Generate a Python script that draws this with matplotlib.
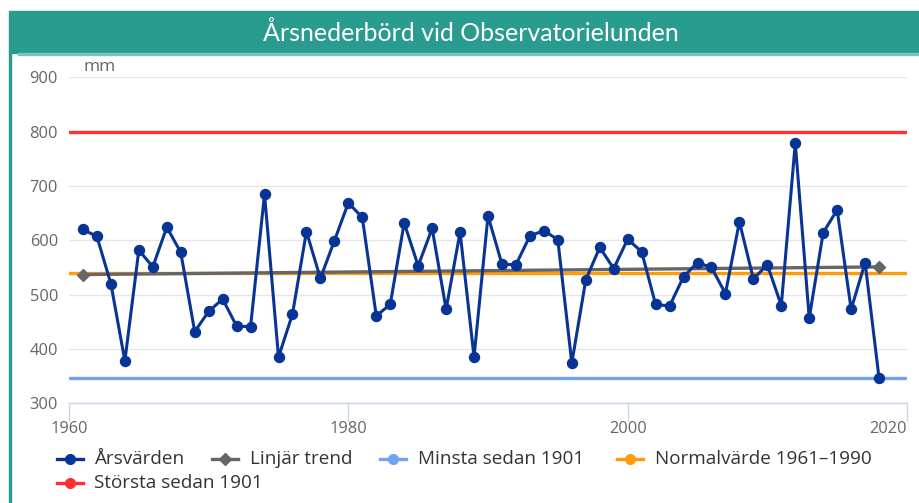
import matplotlib
matplotlib.use("Agg")
import matplotlib.pyplot as plt
from matplotlib.patches import Rectangle
from matplotlib.lines import Line2D

# Årsnederbörd (mm), Observatorielunden
years = list(range(1961, 2019))
values = [620, 607, 520, 378, 582, 551, 624, 578, 432, 469,
          492, 442, 441, 685, 385, 464, 616, 530, 599, 669,
          642, 461, 482, 632, 553, 622, 473, 615, 385, 645,
          556, 555, 608, 618, 601, 374, 527, 587, 548, 602,
          579, 482, 479, 533, 559, 550, 502, 634, 529, 555,
          480, 779, 457, 614, 656, 473, 559, 346]

trend_years = [1961, 2018]
trend_values = [537, 551]

min_since_1901 = 346
max_since_1901 = 800
normal_1961_1990 = 539

x_ticks = [1960, 1980, 2000, 2020]
y_ticks = [300, 400, 500, 600, 700, 800, 900]

TEAL = "#2a9c8f"
C_YEAR = "#083595"
C_TREND = "#666666"
C_MIN = "#72a2f4"
C_NORMAL = "#ff9c0a"
C_MAX = "#ff3030"
TXT = "#666666"
FONT = "Open Sans"

W, H = 920, 503
fig = plt.figure(figsize=(W / 100, H / 100), dpi=100)
fig.patch.set_facecolor("white")

# title bar and left border
fig.patches.append(Rectangle((9 / W, 1 - 53 / H), 1 - 9 / W, 42 / H,
                             transform=fig.transFigure, color=TEAL, zorder=0))
fig.patches.append(Rectangle((18 / W, 1 - 55 / H), 1 - 18 / W, 2 / H,
                             transform=fig.transFigure, color="#7cc4bb", zorder=0))
fig.patches.append(Rectangle((9 / W, 0), 2 / W, 1 - 53 / H,
                             transform=fig.transFigure, color=TEAL, zorder=0))
fig.text(471 / W, 1 - 33 / H, "Årsnederbörd vid Observatorielunden",
         ha="center", va="center", color="white", fontsize=18, family="Lato")

ax = fig.add_axes([69 / W, 1 - 403.3 / H, 838 / W, 326 / H])
ax.set_xlim(1960, 2020)
ax.set_ylim(300, 900)

ax.axhline(min_since_1901, color=C_MIN, lw=2.4, zorder=2)
ax.axhline(normal_1961_1990, color=C_NORMAL, lw=2.4, zorder=2)
ax.axhline(max_since_1901, color=C_MAX, lw=2.4, zorder=2)
ax.plot(trend_years, trend_values, color=C_TREND, lw=2.4, marker="D",
        markersize=6.5, zorder=3)
ax.plot(years, values, color=C_YEAR, lw=2.2, marker="o", markersize=7.2,
        zorder=4, solid_joinstyle="round")

ax.set_xticks(x_ticks)
ax.set_yticks(y_ticks)
ax.grid(axis="y", color="#e6e6e6", lw=1)
ax.set_axisbelow(True)
for s in ["left", "right", "top"]:
    ax.spines[s].set_visible(False)
ax.spines["bottom"].set_color("#ccd6eb")
ax.spines["bottom"].set_linewidth(1)
ax.tick_params(axis="x", length=13, width=1, color="#ccd6eb", pad=0,
               labelsize=11.8, labelcolor=TXT)
ax.tick_params(axis="y", length=0, pad=8, labelsize=11.8, labelcolor=TXT)
for lab in ax.get_xticklabels() + ax.get_yticklabels():
    lab.set_family(FONT)
# last x label is kept inside the plot, as in the original
ax.get_xticklabels()[-1].set_horizontalalignment("right")

fig.text(84 / W, 1 - 67 / H, "mm", ha="left", va="center", color=TXT,
         fontsize=12.5, family=FONT)

# legend, laid out in rows like the original
legend_items = [
    ("Årsvärden", C_YEAR, "o", 57, 94, 459),
    ("Linjär trend", C_TREND, "D", 212, 250, 459),
    ("Minsta sedan 1901", C_MIN, "o", 380, 418, 459),
    ("Normalvärde 1961–1990", C_NORMAL, "o", 617, 655, 459),
    ("Största sedan 1901", C_MAX, "o", 57, 94, 483),
]
for label, col, mk, xs, xt, yy in legend_items:
    y = 1 - yy / H
    fig.add_artist(Line2D([xs / W, (xs + 26) / W], [y, y], color=col, lw=2.4,
                          transform=fig.transFigure))
    fig.add_artist(Line2D([(xs + 13) / W], [y], color=col, marker=mk,
                          markersize=6.5 if mk == "D" else 7,
                          transform=fig.transFigure))
    fig.text(xt / W, y, label, ha="left", va="center", color="#333333",
             fontsize=13.6, family=FONT)

fig.savefig("out.png", dpi=100)
